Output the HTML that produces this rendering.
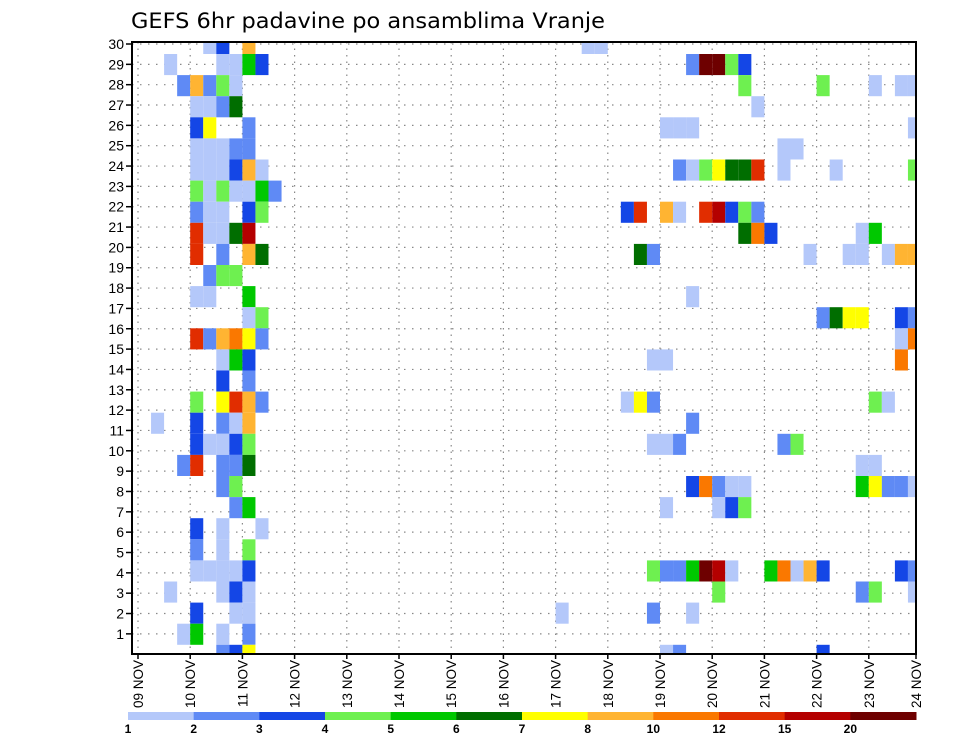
<!DOCTYPE html>
<html><head><meta charset="utf-8">
<style>
html,body{margin:0;padding:0;background:#fff;}
svg{display:block;font-family:"Liberation Sans","DejaVu Sans",sans-serif;}
</style></head>
<body>
<svg id="chart" width="960" height="742" viewBox="0 0 960 742" xmlns="http://www.w3.org/2000/svg">
<text x="131" y="28" font-size="21" fill="#000" font-family="DejaVu Sans, sans-serif" textLength="474" lengthAdjust="spacingAndGlyphs">GEFS 6hr padavine po ansamblima Vranje</text>
<g id="grid"></g>
<g id="cells"></g>
<g id="axes"></g>
<g id="cbar"></g>
</svg>
<script>
// ---- data ----
const xTickLabels = ["09 NOV","10 NOV","11 NOV","12 NOV","13 NOV","14 NOV","15 NOV","16 NOV","17 NOV","18 NOV","19 NOV","20 NOV","21 NOV","22 NOV","23 NOV","24 NOV"];
const yTickLabels = [1,2,3,4,5,6,7,8,9,10,11,12,13,14,15,16,17,18,19,20,21,22,23,24,25,26,27,28,29,30];
const levels = [1,2,3,4,5,6,7,8,10,12,15,20];
const levelColors = ["#b4c8fa","#5f8af5","#1446e6","#6ef050","#00c800","#006e00","#ffff00","#ffb432","#fa7800","#e12d00","#b40000","#6e0000"];
const codeValues = {a:1.5,b:2.5,c:3.5,d:4.5,e:5.5,f:6.5,g:7.5,h:9,i:11,j:13.5,k:17.5,l:25};
// each row (top to bottom): list of [6h step index, code]
const rowCells = [
 [[5,'a'],[6,'c'],[8,'h'],[34,'a'],[35,'a']],
 [[2,'a'],[6,'a'],[7,'a'],[8,'e'],[9,'c'],[42,'b'],[43,'l'],[44,'l'],[45,'d'],[46,'c']],
 [[3,'b'],[4,'h'],[5,'b'],[6,'d'],[7,'a'],[46,'d'],[52,'d'],[56,'a'],[58,'a'],[59,'a']],
 [[4,'a'],[5,'a'],[6,'b'],[7,'f'],[47,'a']],
 [[4,'c'],[5,'g'],[8,'b'],[40,'a'],[41,'a'],[42,'a'],[59,'a']],
 [[4,'a'],[5,'a'],[6,'a'],[7,'b'],[8,'b'],[49,'a'],[50,'a']],
 [[4,'a'],[5,'a'],[6,'a'],[7,'c'],[8,'h'],[9,'a'],[41,'b'],[42,'a'],[43,'d'],[44,'g'],[45,'f'],[46,'f'],[47,'j'],[49,'a'],[53,'a'],[59,'d']],
 [[4,'d'],[5,'a'],[6,'d'],[7,'a'],[8,'a'],[9,'e'],[10,'b']],
 [[4,'b'],[5,'a'],[6,'a'],[8,'c'],[9,'d'],[37,'c'],[38,'j'],[40,'h'],[41,'a'],[43,'j'],[44,'k'],[45,'c'],[46,'d'],[47,'b']],
 [[4,'j'],[5,'a'],[6,'a'],[7,'f'],[8,'k'],[46,'f'],[47,'i'],[48,'c'],[55,'a'],[56,'e']],
 [[4,'j'],[6,'b'],[8,'h'],[9,'f'],[38,'f'],[39,'b'],[51,'a'],[54,'a'],[55,'a'],[57,'a'],[58,'h'],[59,'h']],
 [[5,'b'],[6,'d'],[7,'d']],
 [[4,'a'],[5,'a'],[8,'e'],[42,'a']],
 [[8,'a'],[9,'d'],[52,'b'],[53,'f'],[54,'g'],[55,'g'],[58,'c'],[59,'b']],
 [[4,'j'],[5,'b'],[6,'h'],[7,'i'],[8,'g'],[9,'b'],[58,'a'],[59,'i']],
 [[6,'a'],[7,'e'],[8,'c'],[39,'a'],[40,'a'],[58,'i']],
 [[6,'c'],[8,'b']],
 [[4,'d'],[6,'g'],[7,'j'],[8,'h'],[9,'b'],[37,'a'],[38,'g'],[39,'b'],[56,'d'],[57,'a']],
 [[1,'a'],[4,'c'],[6,'b'],[7,'a'],[8,'h'],[42,'b']],
 [[4,'c'],[5,'a'],[6,'a'],[7,'c'],[8,'d'],[39,'a'],[40,'a'],[41,'b'],[49,'b'],[50,'d']],
 [[3,'b'],[4,'j'],[6,'b'],[7,'b'],[8,'f'],[55,'a'],[56,'a']],
 [[6,'b'],[7,'d'],[42,'c'],[43,'i'],[44,'b'],[45,'a'],[46,'a'],[55,'e'],[56,'g'],[57,'b'],[58,'b'],[59,'a']],
 [[7,'b'],[8,'e'],[40,'a'],[44,'a'],[45,'c'],[46,'d']],
 [[4,'c'],[6,'a'],[9,'a']],
 [[4,'b'],[6,'a'],[8,'d']],
 [[4,'a'],[5,'a'],[6,'a'],[7,'a'],[8,'c'],[39,'d'],[40,'b'],[41,'b'],[42,'e'],[43,'l'],[44,'k'],[45,'a'],[48,'e'],[49,'i'],[50,'a'],[51,'h'],[52,'c'],[58,'c'],[59,'b']],
 [[2,'a'],[6,'a'],[7,'c'],[8,'a'],[44,'d'],[55,'b'],[56,'d'],[59,'a']],
 [[4,'c'],[7,'a'],[8,'a'],[32,'a'],[39,'b'],[42,'a']],
 [[3,'a'],[4,'e'],[6,'a'],[8,'b']],
 [[6,'b'],[7,'c'],[8,'g'],[40,'a'],[41,'b'],[52,'c']]
];
// ---- layout ----
const NS="http://www.w3.org/2000/svg";
const PL=132, PR=916, PT=42, PB=654;
const X0=138, DAY=52.2, STEP=DAY/4;
const ROWH=21.1;
function xStep(s){return X0+s*STEP;}
function xDay(d){return X0+d*DAY;}
function yLine(n){return 44+(30-n)*20.34;}
function rowTop(i){return 54+(i-1)*ROWH;}
function colorFor(v){let k=0;for(let j=0;j<levels.length;j++){if(v>=levels[j])k=j;}return levelColors[k];}
function mk(tag,attrs,parent){const e=document.createElementNS(NS,tag);for(const k in attrs)e.setAttribute(k,attrs[k]);parent.appendChild(e);return e;}

const grid=document.getElementById('grid');
yTickLabels.forEach(n=>{
  const l=mk('line',{x1:PL,x2:PR,y1:yLine(n),y2:yLine(n),stroke:'#888','stroke-width':1.2,'stroke-dasharray':'1.5 6.5'},grid);
  
  
});
xTickLabels.forEach((t,d)=>{
  const x=xDay(d); if(x>PR)return;
  const l=mk('line',{x1:x,x2:x,y1:PT,y2:PB,stroke:'#888','stroke-width':1.2,'stroke-dasharray':'1.5 5'},grid);
  
  
});

const cells=document.getElementById('cells');
rowCells.forEach((row,i)=>{
  let top=rowTop(i), bot=top+ROWH;
  top=Math.max(top,PT+1); bot=Math.min(bot,PB);
  row.forEach(([s,code])=>{
    const v=codeValues[code];
    const x1=xStep(s), x2=Math.min(xStep(s+1),PR);
    const r=mk('rect',{x:x1,y:top,width:x2-x1,height:bot-top,fill:colorFor(v)},cells);
    
    
  });
});

const axes=document.getElementById('axes');
const frame=mk('rect',{x:PL,y:PT,width:PR-PL,height:PB-PT,fill:'none',stroke:'#000','stroke-width':2},axes);


yTickLabels.forEach(n=>{
  const y=yLine(n);
  mk('line',{x1:PL-6,x2:PL,y1:y,y2:y,stroke:'#000','stroke-width':1.5},axes);
  const t=mk('text',{x:PL-8,y:y+5,'text-anchor':'end','font-size':14,fill:'#000'},axes);
  t.textContent=n;
  
  
});
xTickLabels.forEach((lab,d)=>{
  const x=Math.min(xDay(d),PR);
  mk('line',{x1:x,x2:x,y1:PB,y2:PB+5,stroke:'#000','stroke-width':1.5},axes);
  const t=mk('text',{x:0,y:0,'text-anchor':'end','font-size':13.5,fill:'#000',transform:'translate('+(x+5)+','+(PB+6)+') rotate(-90)'},axes);
  t.textContent=lab;
  
  
});

const cbar=document.getElementById('cbar');
const CB0=128, CB1=916, CBY=712, CBH=8;
const segW=(CB1-CB0)/levels.length;
levels.forEach((lv,k)=>{
  const r=mk('rect',{x:CB0+k*segW,y:CBY,width:segW+0.5,height:CBH,fill:levelColors[k]},cbar);
  
  
  const t=mk('text',{x:CB0+k*segW,y:733,'text-anchor':'middle','font-size':12,'font-weight':'bold',fill:'#000'},cbar);
  t.textContent=lv;
  
  
});
</script>
</body></html>
